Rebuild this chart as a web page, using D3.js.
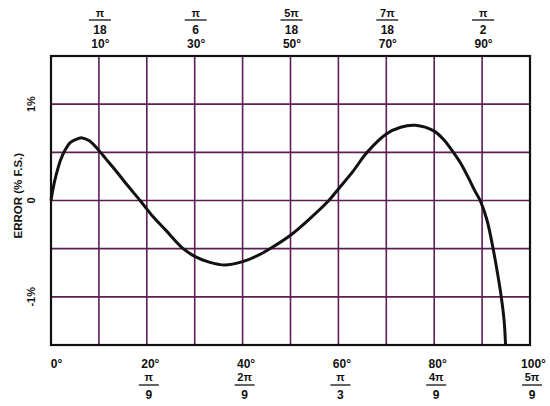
<!DOCTYPE html>
<html>
<head>
<meta charset="utf-8">
<script src="https://cdn.jsdelivr.net/npm/d3@7"></script>
<style>
  body { margin: 0; background: #fff; }
  text { font-family: "Liberation Sans", Arial, sans-serif; font-weight: bold; fill: #111; }
</style>
</head>
<body>
<div id="chart"></div>
<script>
// curve: angle in degrees, error in % of full scale
const angleDeg = [0, 0.5, 1, 2, 3, 4, 5, 6.5, 8, 10, 12, 14, 16, 18.6, 21, 24, 27.6, 30, 33, 36.3, 40, 43, 45.7, 50, 54, 58, 60, 63, 66, 70, 73, 76, 80, 82, 84, 85.5, 87, 88.5, 89.6, 91, 92.3, 93.2, 94, 94.6, 94.9];
const errorPct = [0, 0.14, 0.25, 0.42, 0.53, 0.6, 0.63, 0.65, 0.62, 0.52, 0.4, 0.28, 0.155, 0, -0.15, -0.31, -0.5, -0.58, -0.64, -0.67, -0.635, -0.575, -0.5, -0.36, -0.19, 0, 0.12, 0.3, 0.5, 0.69, 0.76, 0.78, 0.72, 0.63, 0.5, 0.39, 0.25, 0.1, 0, -0.2, -0.5, -0.75, -1.0, -1.25, -1.5];

const xGrid = [10, 20, 30, 40, 50, 60, 70, 80, 90];
const yGrid = [-1, -0.5, 0, 0.5, 1];

const bottomTicks = [0, 20, 40, 60, 80, 100];
const bottomNum = ["", "π", "2π", "π", "4π", "5π"];
const bottomDen = ["", "9", "9", "3", "9", "9"];

const topTicks = [10, 30, 50, 70, 90];
const topNum = ["π", "π", "5π", "7π", "π"];
const topDen = ["18", "6", "18", "18", "2"];

const yTicks = [1, 0, -1];
const yTickLabels = ["1%", "0", "-1%"];

const margin = { top: 56, right: 20, bottom: 61, left: 51 },
  width = 550 - margin.left - margin.right,
  height = 406 - margin.top - margin.bottom;

const svg = d3.select('#chart')
  .append('svg')
  .attr('width', 550)
  .attr('height', 406)
  .append('g')
  .attr('transform', 'translate(' + margin.left + ',' + margin.top + ')');

const x = d3.scaleLinear().domain([0, 100]).range([0, width]);
const y = d3.scaleLinear().domain([-1.5, 1.5]).range([height, 0]);

// grid
svg.selectAll('.vgrid')
  .data(xGrid)
  .enter().append('line')
  .attr('x1', d => x(d)).attr('x2', d => x(d))
  .attr('y1', 0).attr('y2', height)
  .attr('stroke', '#5b1f55').attr('stroke-width', 1.6);

svg.selectAll('.hgrid')
  .data(yGrid)
  .enter().append('line')
  .attr('x1', 0).attr('x2', width)
  .attr('y1', d => y(d)).attr('y2', d => y(d))
  .attr('stroke', '#5b1f55').attr('stroke-width', 1.6);

// frame
svg.append('rect')
  .attr('x', 0).attr('y', 0)
  .attr('width', width).attr('height', height)
  .attr('fill', 'none')
  .attr('stroke', '#111').attr('stroke-width', 2.2);

// curve
const line = d3.line()
  .x(d => x(d[0]))
  .y(d => y(d[1]))
  .curve(d3.curveCatmullRom.alpha(0.5));

svg.append('path')
  .datum(d3.zip(angleDeg, errorPct))
  .attr('fill', 'none')
  .attr('stroke', '#111')
  .attr('stroke-width', 3)
  .attr('stroke-linejoin', 'round')
  .attr('d', line);

// bottom axis: degrees
const bottomAxis = svg.append('g')
  .attr('transform', 'translate(0,' + height + ')')
  .call(d3.axisBottom(x).tickValues(bottomTicks).tickSize(0).tickPadding(14).tickFormat(d => d + '°'));
bottomAxis.select('.domain').remove();
bottomAxis.selectAll('text').attr('font-size', 12).attr('dx', (d, i) => i === 0 ? 5 : 3);

// bottom fractions
const bf = svg.append('g').selectAll('g')
  .data(bottomTicks.map((d, i) => ({ v: d, n: bottomNum[i], d: bottomDen[i] })).filter(d => d.n))
  .enter().append('g')
  .attr('transform', d => 'translate(' + (x(d.v) + 2) + ',' + height + ')');
bf.append('text').attr('y', 36).attr('text-anchor', 'middle').attr('font-size', 11).text(d => d.n);
bf.append('line').attr('x1', -10).attr('x2', 10).attr('y1', 40).attr('y2', 40).attr('stroke', '#111').attr('stroke-width', 1.3);
bf.append('text').attr('y', 54).attr('text-anchor', 'middle').attr('font-size', 12).text(d => d.d);

// top axis: degrees + fractions
const topAxis = svg.append('g')
  .call(d3.axisTop(x).tickValues(topTicks).tickSize(0).tickPadding(8).tickFormat(d => d + '°'));
topAxis.select('.domain').remove();
topAxis.selectAll('text').attr('font-size', 12).attr('dx', 1);

const tf = svg.append('g').selectAll('g')
  .data(topTicks.map((d, i) => ({ v: d, n: topNum[i], d: topDen[i] })))
  .enter().append('g')
  .attr('transform', d => 'translate(' + (x(d.v) + 1) + ',0)');
tf.append('text').attr('y', -39).attr('text-anchor', 'middle').attr('font-size', 11).text(d => d.n);
tf.append('line').attr('x1', -11).attr('x2', 11).attr('y1', -36).attr('y2', -36).attr('stroke', '#111').attr('stroke-width', 1.3);
tf.append('text').attr('y', -22).attr('text-anchor', 'middle').attr('font-size', 12).text(d => d.d);

// left axis labels (rotated)
svg.append('g').selectAll('text')
  .data(yTicks)
  .enter().append('text')
  .attr('transform', (d, i) => 'translate(-16,' + y(d) + ') rotate(-90)')
  .attr('text-anchor', 'middle')
  .attr('font-size', 11)
  .text((d, i) => yTickLabels[i]);

svg.append('text')
  .attr('transform', 'translate(-29,' + y(0.05) + ') rotate(-90)')
  .attr('text-anchor', 'middle')
  .attr('font-size', 11.5)
  .text('ERROR (% F.S.)');
</script>
</body>
</html>
